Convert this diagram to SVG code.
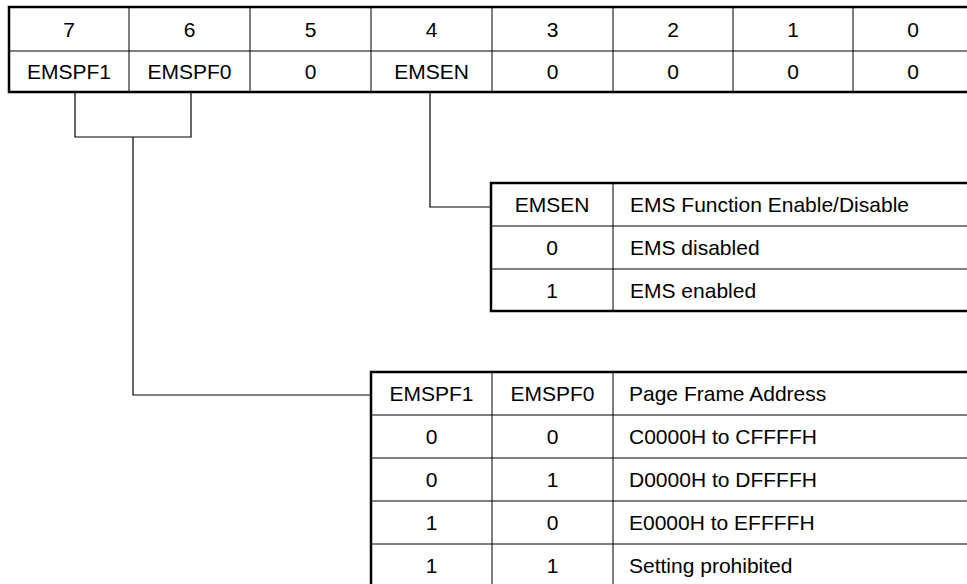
<svg xmlns="http://www.w3.org/2000/svg" width="967" height="584" viewBox="0 0 967 584">
  <style>
    text { font-family: "Liberation Sans", Arial, sans-serif; font-size: 21px; fill: #000; }
    .c { text-anchor: middle; }
    .thick { stroke: #000; stroke-width: 2.5; fill: none; }
    .thin { stroke: #000; stroke-width: 1; fill: none; }
    .wire { stroke: #000; stroke-width: 1.2; fill: none; }
  </style>
  <rect width="967" height="584" fill="#fff"/>

  <!-- register bit layout -->
  <g id="register">
    <path class="thin" d="M9,51 H967 M129,7 V92 M250,7 V92 M371,7 V92 M492,7 V92 M613,7 V92 M733,7 V92 M853,7 V92"/>
    <path class="thick" d="M968,7 H9 V92 H968"/>
    <text class="c" x="69" y="36.5">7</text>
    <text class="c" x="189.5" y="36.5">6</text>
    <text class="c" x="310.5" y="36.5">5</text>
    <text class="c" x="431.5" y="36.5">4</text>
    <text class="c" x="552.5" y="36.5">3</text>
    <text class="c" x="673" y="36.5">2</text>
    <text class="c" x="793" y="36.5">1</text>
    <text class="c" x="913" y="36.5">0</text>
    <text class="c" x="69" y="79">EMSPF1</text>
    <text class="c" x="189.5" y="79">EMSPF0</text>
    <text class="c" x="310.5" y="79">0</text>
    <text class="c" x="431.5" y="79">EMSEN</text>
    <text class="c" x="552.5" y="79">0</text>
    <text class="c" x="673" y="79">0</text>
    <text class="c" x="793" y="79">0</text>
    <text class="c" x="913" y="79">0</text>
  </g>

  <!-- EMSEN function table -->
  <g id="emsen-table">
    <path class="thin" d="M491,226 H967 M491,269 H967 M613,183 V311"/>
    <path class="thick" d="M968,183 H491 V311 H968"/>
    <text class="c" x="552" y="212">EMSEN</text>
    <text x="630" y="212">EMS Function Enable/Disable</text>
    <text class="c" x="552" y="255">0</text>
    <text x="630" y="255">EMS disabled</text>
    <text class="c" x="552" y="297.5">1</text>
    <text x="630" y="297.5">EMS enabled</text>
  </g>

  <!-- page frame address table -->
  <g id="emspf-table">
    <path class="thin" d="M371,415 H967 M371,458 H967 M371,501 H967 M371,544 H967 M492,372 V590 M613,372 V590"/>
    <path class="thick" d="M968,372 H371 V590"/>
    <text class="c" x="431.5" y="401">EMSPF1</text>
    <text class="c" x="552.5" y="401">EMSPF0</text>
    <text x="629" y="401">Page Frame Address</text>
    <text class="c" x="431.5" y="444">0</text>
    <text class="c" x="552.5" y="444">0</text>
    <text x="629" y="444">C0000H to CFFFFH</text>
    <text class="c" x="431.5" y="487">0</text>
    <text class="c" x="552.5" y="487">1</text>
    <text x="629" y="487">D0000H to DFFFFH</text>
    <text class="c" x="431.5" y="530">1</text>
    <text class="c" x="552.5" y="530">0</text>
    <text x="629" y="530">E0000H to EFFFFH</text>
    <text class="c" x="431.5" y="573">1</text>
    <text class="c" x="552.5" y="573">1</text>
    <text x="629" y="573">Setting prohibited</text>
  </g>

  <!-- connectors -->
  <g id="connectors">
    <path class="wire" d="M75,92 V137 H191 V92"/>
    <path class="wire" d="M133,137 V395 H371"/>
    <path class="wire" d="M430,92 V207 H491"/>
  </g>
</svg>
